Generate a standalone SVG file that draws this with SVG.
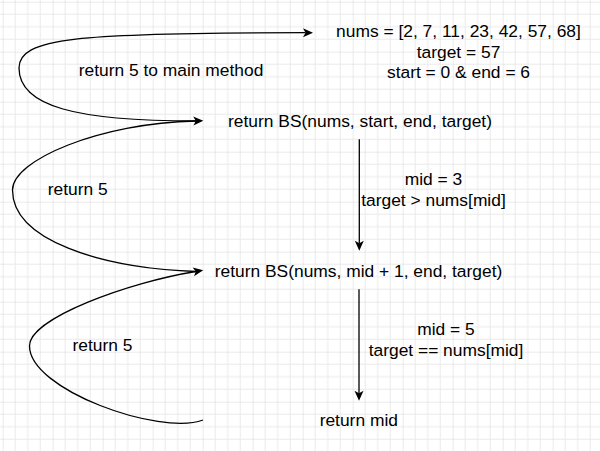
<svg xmlns="http://www.w3.org/2000/svg" width="600" height="451" viewBox="0 0 600 451">
<style>
.t{font-family:"Liberation Sans",Arial,sans-serif;font-size:17.4px;fill:#000;text-anchor:middle}
.e{fill:none;stroke:#000;stroke-width:1.3}
</style>
<defs>
<pattern id="grid" patternUnits="userSpaceOnUse" x="2.7" y="1.7" width="50" height="50">
<path d="M0 12.5H50M0 25H50M0 37.5H50M12.5 0V50M25 0V50M37.5 0V50" fill="none" stroke="#eaeaea" stroke-width="1"/>
<path d="M0 0H50M0 0V50" fill="none" stroke="#d7d7d7" stroke-width="1"/>
</pattern>
<marker id="arr" markerUnits="userSpaceOnUse" markerWidth="12" markerHeight="11" refX="2.5" refY="4.5" orient="auto" overflow="visible">
<path d="M0,0 L10,4.5 L0,9 L2.5,4.5 Z" fill="#000"/>
</marker>
</defs>
<rect width="600" height="451" fill="#fff"/>
<rect width="600" height="451" fill="url(#grid)"/>
<g id="connectors">
<path id="e1" class="e" marker-end="url(#arr)" d="M196,121 C75,121 19,106 19,68 C19,38 75,32.7 305.5,32.7"/>
<path id="e2" class="e" marker-end="url(#arr)" d="M196,271.5 C100,268 12.5,240 12.5,190 C12.5,160 100,123 195.8,121"/>
<path id="e3" class="e" marker-end="url(#arr)" d="M203,420 C160,436 29.5,390 29.5,346 C29.5,318 130,282 195.8,271.5"/>
<path id="e4" class="e" marker-end="url(#arr)" d="M359.3,139.3 V243.2"/>
<path id="e5" class="e" marker-end="url(#arr)" d="M359,289.3 V393.2"/>
<text class="t" x="171" y="76">return 5 to main method</text>
<text class="t" x="77.7" y="195">return 5</text>
<text class="t" x="102.5" y="351">return 5</text>
<text class="t" x="433.5" y="185">mid = 3</text>
<text class="t" x="433.5" y="206">target &gt; nums[mid]</text>
<text class="t" x="446" y="335">mid = 5</text>
<text class="t" x="446" y="356">target == nums[mid]</text>
</g>
<g id="n-input">
<text class="t" x="458.5" y="37">nums = [2, 7, 11, 23, 42, 57, 68]</text>
<text class="t" x="458.5" y="57.7">target = 57</text>
<text class="t" x="458.5" y="78.4">start = 0 &amp; end = 6</text>
</g>
<g id="n-call1"><text class="t" x="360" y="127">return BS(nums, start, end, target)</text></g>
<g id="n-call2"><text class="t" x="358.5" y="277.3">return BS(nums, mid + 1, end, target)</text></g>
<g id="n-return"><text class="t" x="358.8" y="425.7">return mid</text></g>
</svg>
